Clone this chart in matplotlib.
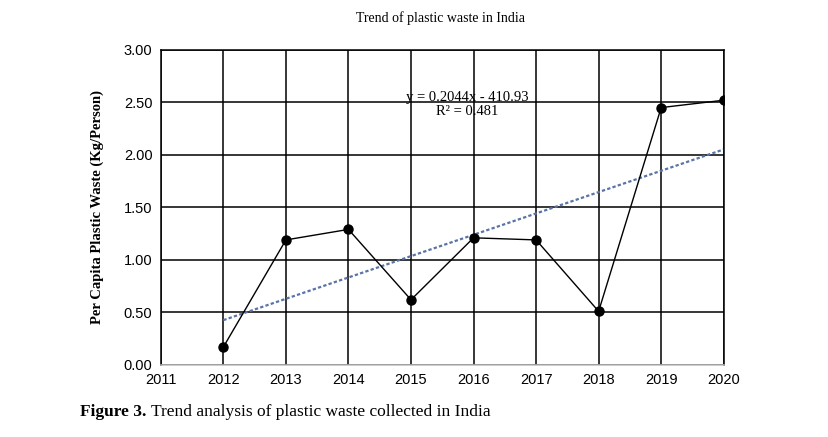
import numpy as np
import matplotlib
matplotlib.use("Agg")
import matplotlib.pyplot as plt

# data
years = [2012, 2013, 2014, 2015, 2016, 2017, 2018, 2019, 2020]
waste = [0.17, 1.19, 1.29, 0.62, 1.21, 1.19, 0.51, 2.45, 2.52]
yticks = [0.0, 0.5, 1.0, 1.5, 2.0, 2.5, 3.0]
xticks = list(range(2011, 2021))

serif = ["Liberation Serif", "DejaVu Serif"]
sans = ["Liberation Sans", "DejaVu Sans"]

fig = plt.figure(figsize=(8.29, 4.37), dpi=100)
ax = fig.add_axes([0.194, 0.165, 0.679, 0.721])

# linear trend
coef = np.polyfit(years, waste, 1)
tx = np.array([years[0], years[-1]])
ax.plot(tx, np.polyval(coef, tx), linestyle=(0, (1.5, 1)), color="#5a74a8", lw=1.6, zorder=2)

ax.plot(years, waste, color="black", lw=1, marker="o", markersize=6.5, zorder=3)

ax.set_xlim(2011, 2020)
ax.set_ylim(0, 3)
ax.set_xticks(xticks)
ax.set_yticks(yticks)
ax.set_yticklabels(["%.2f" % v for v in yticks])
ax.grid(True, color="black", lw=1.1)
ax.set_axisbelow(True)
for s in ["top", "right", "left"]:
    ax.spines[s].set_color("black")
    ax.spines[s].set_linewidth(1.1)
ax.spines["bottom"].set_color("#bfbfbf")
ax.spines["bottom"].set_linewidth(1.1)
ax.tick_params(length=0, pad=6, labelsize=10.5)
for lab in ax.get_xticklabels() + ax.get_yticklabels():
    lab.set_fontfamily(sans)

ax.text(2015.9, 2.55, "y = 0.2044x - 410.93", ha="center", va="center",
        family=serif, fontsize=10.5)
ax.text(2015.9, 2.41, "R² = 0.481", ha="center", va="center",
        family=serif, fontsize=10.5)

ax.set_ylabel("Per Capita Plastic Waste (Kg/Person)", family=serif,
              fontweight="bold", fontsize=10.5, labelpad=14)
fig.text(0.531, 0.958, "Trend of plastic waste in India", ha="center", va="center",
         family=serif, fontsize=10)

t = fig.text(0.097, 0.057, "Figure 3.", family=serif, fontweight="bold",
             fontsize=12.5, va="center")
ax.annotate(" Trend analysis of plastic waste collected in India", xy=(1, 0.5),
            xycoords=t, va="center", ha="left", family=serif, fontsize=12.5,
            annotation_clip=False)

fig.savefig("out.png", dpi=100)
